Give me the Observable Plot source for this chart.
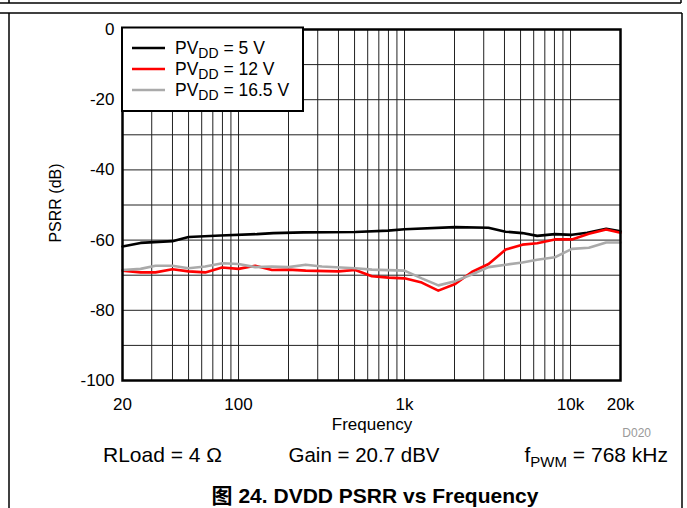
<!DOCTYPE html>
<html><head><meta charset="utf-8">
<script src="https://cdn.jsdelivr.net/npm/d3@7"></script>
<script src="https://cdn.jsdelivr.net/npm/@observablehq/plot@0.6"></script>
<style>body{margin:0;background:#fff;} svg{display:block;}</style>
</head><body><div id="chart"></div>
<script>
const freq5 = [20,25.7,40,50,78,129,162,246,505,796,1000,2018,3200,4060,5130,6300,8040,10200,12600,16400,20000];
const db5   = [-61.8,-60.8,-60.3,-59.1,-58.7,-58.3,-58.0,-57.8,-57.7,-57.3,-56.9,-56.3,-56.5,-57.6,-58.0,-58.8,-58.3,-58.5,-57.9,-56.8,-57.5];
const freq12 = [20,25.7,31.6,40,50,63,79.6,100,126,159,200,254,400,505,636,800,1000,1270,1597,2020,2543,3210,4070,5130,6300,8040,10200,12900,16400,20000];
const db12   = [-68.7,-69.2,-69.2,-68.3,-68.9,-69.2,-67.8,-68.2,-67.3,-68.5,-68.4,-68.7,-68.9,-68.5,-70.3,-70.7,-70.9,-72.1,-74.4,-72.5,-69.1,-66.8,-62.7,-61.3,-60.9,-59.8,-59.8,-58.2,-57.0,-57.9];
const freq165 = [20,25.7,31.6,40,50,63,80,100,126,159,200,254,318,505,636,1000,1270,1600,2020,2540,3210,4070,5130,6300,8040,10200,12900,16400,20000];
const db165   = [-68.5,-68.2,-67.3,-67.3,-68.0,-67.5,-66.6,-66.8,-67.7,-67.5,-67.7,-67.0,-67.5,-68.0,-68.4,-68.7,-70.9,-72.9,-71.7,-69.8,-67.7,-67.0,-66.4,-65.6,-64.9,-62.5,-62.2,-60.7,-60.7];
const seriesNames = ["5 V","12 V","16.5 V"];
const seriesColors = ["#000000","#ff0000","#aaaaaa"];
const xTicks = [20,100,1000,10000,20000];
const xTickLabels = ["20","100","1k","10k","20k"];
const yTicks = [0,-20,-40,-60,-80,-100];
const xGrid = [30,40,50,60,70,80,90,100,200,300,400,500,600,700,800,900,1000,2000,3000,4000,5000,6000,7000,8000,9000,10000];
const yGrid = [-10,-20,-30,-40,-50,-60,-70,-80,-90];

const toRows = (fs, ds, s) => fs.map((f,i)=>({f, db: ds[i], s}));
const rows = [
  ...toRows(freq5, db5, seriesNames[0]),
  ...toRows(freq12, db12, seriesNames[1]),
  ...toRows(freq165, db165, seriesNames[2])
];

const W = 687, H = 508;
const plot = Plot.plot({
  width: W, height: H,
  marginLeft: 122, marginRight: 67, marginTop: 29, marginBottom: 128,
  style: {fontFamily: "Liberation Sans, Arial, sans-serif", fontSize: "17px", color: "#000", background: "#fff"},
  x: {type: "log", domain: [20, 20000], ticks: xTicks, tickFormat: (d)=> xTickLabels[xTicks.indexOf(d)], tickSize: 0, tickPadding: 17, label: null},
  y: {domain: [-100, 0], ticks: yTicks, tickFormat: (d)=> String(d), tickSize: 0, tickPadding: 8, label: null},
  color: {domain: seriesNames, range: seriesColors},
  marks: [
    Plot.ruleX(xGrid, {stroke: "#222", strokeWidth: 1}),
    Plot.ruleY(yGrid, {stroke: "#222", strokeWidth: 1}),
    Plot.line(rows, {x: "f", y: "db", z: "s", stroke: "s", strokeWidth: 2.6}),
    Plot.frame({stroke: "#000", strokeWidth: 2.5})
  ]
});
document.getElementById("chart").appendChild(plot);

const svg = d3.select(plot);
const font = "Liberation Sans, Arial, sans-serif";
// outer document frame lines
const fr = svg.append("g").attr("stroke", "#000").attr("stroke-width", 1.5).attr("fill", "none");
[[0,3,681,3],[681,0,681,3],[9,0,9,3],[0,13,682,13],[9,13,9,508],[682,13,682,508]].forEach(([x1,y1,x2,y2])=>{
  fr.append("line").attr("x1",x1).attr("y1",y1).attr("x2",x2).attr("y2",y2);
});

// legend
const lg = svg.append("g").attr("text-anchor","start");
lg.append("rect").attr("x",122).attr("y",27.5).attr("width",181).attr("height",83.5)
  .attr("fill","#fff").attr("stroke","#000").attr("stroke-width",2);
seriesNames.forEach((n,i)=>{
  const y = 48 + i*21;
  lg.append("line").attr("x1",132).attr("x2",165).attr("y1",y).attr("y2",y)
    .attr("stroke",seriesColors[i]).attr("stroke-width",2.6);
  const t = lg.append("text").attr("x",175).attr("y",y+6).attr("font-family",font).attr("font-size",17.5);
  t.append("tspan").text("PV");
  t.append("tspan").attr("font-size",14).attr("dy",4).text("DD");
  t.append("tspan").attr("dy",-4).text(" = " + n);
});

// axis label y
svg.append("text").attr("transform","translate(61,203) rotate(-90)").attr("text-anchor","middle")
  .attr("font-family",font).attr("font-size",16).text("PSRR (dB)");
// x label
svg.append("text").attr("x",372).attr("y",430).attr("text-anchor","middle")
  .attr("font-family",font).attr("font-size",17).text("Frequency");
svg.append("text").attr("x",651).attr("y",437).attr("text-anchor","end")
  .attr("font-family",font).attr("font-size",12).attr("fill","#999").text("D020");
// conditions
svg.append("text").attr("x",103).attr("y",462).attr("text-anchor","start").attr("font-family",font).attr("font-size",21).text("RLoad = 4 Ω");
svg.append("text").attr("x",364).attr("y",462).attr("text-anchor","middle").attr("font-family",font).attr("font-size",20.5).text("Gain = 20.7 dBV");
const fp = svg.append("text").attr("x",668).attr("y",462).attr("text-anchor","end").attr("font-family",font).attr("font-size",21);
fp.append("tspan").text("f");
fp.append("tspan").attr("font-size",15).attr("dy",5).text("PWM");
fp.append("tspan").attr("dy",-5).text(" = 768 kHz");
// caption
svg.append("text").attr("x",375).attr("y",503).attr("text-anchor","middle").attr("font-family","Liberation Sans, Arial, 'Noto Sans CJK SC', sans-serif")
  .attr("font-size",21).attr("font-weight","bold").text("图 24. DVDD PSRR vs Frequency");
</script></body></html>
